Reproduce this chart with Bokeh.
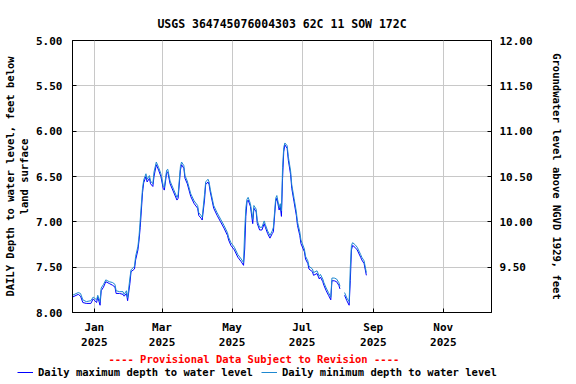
from datetime import datetime
from bokeh.plotting import figure
from bokeh.layouts import column
from bokeh.models import (Range1d, LinearAxis, FixedTicker, PrintfTickFormatter,
                          Legend, LegendItem, Title, ColumnDataSource)
from bokeh.embed import file_html
from bokeh.resources import INLINE

NAN = float("nan")

# ---- data ----
dates = [
    "2024-12-13", "2024-12-18", "2024-12-20", "2024-12-22", "2024-12-25", "2024-12-29", "2024-12-31",
    "2025-01-03", "2025-01-04", "2025-01-06", "2025-01-07", "2025-01-09", "2025-01-11", "2025-01-14",
    "2025-01-17", "2025-01-19", "2025-01-20", "2025-01-23", "2025-01-26", "2025-01-27", "2025-01-29",
    "2025-01-30", "2025-02-01", "2025-02-02", "2025-02-05", "2025-02-06", "2025-02-08", "2025-02-09",
    "2025-02-10", "2025-02-11", "2025-02-12", "2025-02-13", "2025-02-15", "2025-02-16", "2025-02-18",
    "2025-02-19", "2025-02-21", "2025-02-22", "2025-02-24", "2025-02-26", "2025-02-28", "2025-03-02",
    "2025-03-03", "2025-03-05", "2025-03-06", "2025-03-08", "2025-03-11", "2025-03-14", "2025-03-15",
    "2025-03-17", "2025-03-18", "2025-03-20", "2025-03-21", "2025-03-23", "2025-03-26", "2025-03-29",
    "2025-04-01", "2025-04-02", "2025-04-04", "2025-04-05", "2025-04-07", "2025-04-08", "2025-04-10",
    "2025-04-11", "2025-04-12", "2025-04-15", "2025-04-18", "2025-04-21", "2025-04-24", "2025-04-27",
    "2025-04-28", "2025-04-30", "2025-05-03", "2025-05-06", "2025-05-09", "2025-05-11", "2025-05-12",
    "2025-05-13", "2025-05-14", "2025-05-15", "2025-05-17", "2025-05-19", "2025-05-20", "2025-05-22",
    "2025-05-23", "2025-05-25", "2025-05-27", "2025-05-29", "2025-05-30", "2025-06-01", "2025-06-03",
    "2025-06-05", "2025-06-06", "2025-06-08", "2025-06-09", "2025-06-11", "2025-06-12", "2025-06-13",
    "2025-06-14", "2025-06-15", "2025-06-16", "2025-06-18", "2025-06-19", "2025-06-21", "2025-06-22",
    "2025-06-24", "2025-06-26", "2025-06-27", "2025-06-29", "2025-06-30", "2025-07-03", "2025-07-04",
    "2025-07-06", "2025-07-07", "2025-07-10", "2025-07-11", "2025-07-14", "2025-07-16", "2025-07-17",
    "2025-07-19", "2025-07-20", "2025-07-22", "2025-07-24", "2025-07-26", "2025-07-27", "2025-07-29",
    "2025-07-31", "2025-08-02", "2025-08-03", "2025-08-05", "2025-08-07", "2025-08-09", "2025-08-11",
    "2025-08-12", "2025-08-13", "2025-08-14", "2025-08-16", "2025-08-18", "2025-08-21", "2025-08-22",
    "2025-08-24", "2025-08-26",
]

max_depth = [
    7.83, 7.80, 7.82, 7.89, 7.90, 7.90, 7.85,
    7.89, 7.83, 7.92, 7.76, 7.72, 7.66, 7.68,
    7.70, 7.72, 7.79, 7.79, 7.80, 7.82, 7.79,
    7.87, 7.68, 7.55, 7.52, 7.42, 7.31, 7.20,
    7.06, 6.87, 6.68, 6.57, 6.50, 6.56, 6.52,
    6.58, 6.61, 6.50, 6.37, 6.43, 6.50, 6.63,
    6.65, 6.46, 6.45, 6.58, 6.67, 6.76, 6.74,
    6.43, 6.37, 6.41, 6.52, 6.58, 6.72, 6.80,
    6.85, 6.93, 6.96, 6.98, 6.76, 6.59, 6.56,
    6.59, 6.67, 6.85, 6.93, 7.00, 7.07, 7.15,
    7.20, 7.26, 7.31, 7.39, 7.44, 7.48, 7.30,
    6.94, 6.78, 6.76, 6.83, 7.02, 6.85, 6.89,
    7.02, 7.09, 7.09, 7.02, 7.06, 7.13, 7.18,
    7.13, 7.11, 6.78, 6.74, 6.87, 6.83, 6.94,
    6.52, 6.23, 6.15, 6.19, 6.32, 6.48, 6.63,
    6.78, 6.93, 7.04, 7.15, 7.24, 7.33, 7.41,
    7.46, 7.52, 7.55, 7.59, 7.57, 7.63, 7.61,
    7.66, 7.70, 7.76, 7.81, 7.86, 7.65, 7.65,
    7.66, 7.70, 7.74, NAN, 7.81, 7.87, 7.92,
    7.65, 7.31, 7.26, 7.28, 7.31, 7.39, 7.42,
    7.46, 7.59,
]

min_depth = [
    7.81, 7.78, 7.79, 7.86, 7.88, 7.87, 7.83,
    7.86, 7.81, 7.88, 7.73, 7.69, 7.64, 7.66,
    7.67, 7.69, 7.76, 7.77, 7.77, 7.80, 7.76,
    7.84, 7.62, 7.53, 7.49, 7.38, 7.27, 7.15,
    6.98, 6.80, 6.63, 6.54, 6.47, 6.53, 6.49,
    6.55, 6.58, 6.45, 6.34, 6.40, 6.47, 6.60,
    6.62, 6.43, 6.42, 6.55, 6.64, 6.73, 6.70,
    6.39, 6.34, 6.38, 6.49, 6.55, 6.69, 6.77,
    6.82, 6.90, 6.93, 6.95, 6.70, 6.56, 6.53,
    6.56, 6.64, 6.82, 6.90, 6.97, 7.04, 7.12,
    7.17, 7.23, 7.28, 7.36, 7.41, 7.45, 7.10,
    6.85, 6.75, 6.73, 6.80, 6.97, 6.82, 6.86,
    6.99, 7.06, 7.06, 6.99, 7.03, 7.10, 7.15,
    7.10, 7.06, 6.74, 6.71, 6.84, 6.80, 6.88,
    6.40, 6.18, 6.13, 6.16, 6.28, 6.44, 6.59,
    6.74, 6.89, 7.00, 7.11, 7.20, 7.30, 7.38,
    7.43, 7.49, 7.52, 7.56, 7.54, 7.60, 7.58,
    7.63, 7.67, 7.73, 7.78, 7.83, 7.62, 7.62,
    7.63, 7.67, 7.71, NAN, 7.78, 7.84, 7.88,
    7.50, 7.26, 7.23, 7.25, 7.28, 7.36, 7.39,
    7.43, 7.56,
]

left_ticks = [5.0, 5.5, 6.0, 6.5, 7.0, 7.5, 8.0]
right_ticks = [9.5, 10.0, 10.5, 11.0, 11.5, 12.0]
month_ticks = ["2025-01-01", "2025-03-01", "2025-05-01", "2025-07-01", "2025-09-01", "2025-11-01"]
month_labels = ["Jan\n2025", "Mar\n2025", "May\n2025", "Jul\n2025", "Sep\n2025", "Nov\n2025"]

title_text = "USGS 364745076004303 62C 11 SOW 172C"
left_label = "DAILY Depth to water level, feet below\nland surface"
right_label = "Groundwater level above NGVD 1929, feet"
provisional = "---- Provisional Data Subject to Revision ----"
max_name = "Daily maximum depth to water level"
min_name = "Daily minimum depth to water level"
max_color = "#0000ff"
min_color = "#1e88d0"

# ---- build ----
def to_dt(s):
    return datetime.strptime(s, "%Y-%m-%d")

def to_ms(s):
    return (to_dt(s) - datetime(1970, 1, 1)).total_seconds() * 1000.0

FONT = "DejaVu Sans Mono"
x_dates = [to_dt(d) for d in dates]
src = ColumnDataSource(dict(x=x_dates, ymax=max_depth, ymin=min_depth))

p = figure(width=576, height=366, x_axis_type="datetime",
           x_range=Range1d(datetime(2024, 12, 13), datetime(2025, 12, 13)),
           y_range=Range1d(8.0, 5.0),
           output_backend="svg", toolbar_location=None,
           min_border_left=72, min_border_right=85, min_border_top=40, min_border_bottom=54)

p.title.text = title_text
p.title.align = "center"
p.title.text_font = FONT
p.title.text_font_size = "11.5px"
p.title.text_font_style = "bold"
p.title.text_color = "black"
p.title.standoff = 20

p.outline_line_color = "black"
p.outline_line_width = 1
p.background_fill_color = "white"
p.border_fill_color = "white"

p.line("x", "ymax", source=src, line_color=max_color, line_width=1)
p.line("x", "ymin", source=src, line_color=min_color, line_width=1)

# left axis
ya = p.yaxis[0]
ya.ticker = FixedTicker(ticks=left_ticks)
ya.formatter = PrintfTickFormatter(format="%.2f")
ya.axis_label = left_label

# right axis
p.extra_y_ranges = {"right": Range1d(9.0, 12.0)}
ra = LinearAxis(y_range_name="right", ticker=FixedTicker(ticks=right_ticks),
                formatter=PrintfTickFormatter(format="%.2f"), axis_label=right_label)
p.add_layout(ra, "right")

# x axis
xa = p.xaxis[0]
tick_ms = [to_ms(t) for t in month_ticks]
xa.ticker = FixedTicker(ticks=tick_ms)
xa.major_label_overrides = {t: lab for t, lab in zip(tick_ms, month_labels)}

for ax in [ya, ra, xa]:
    ax.major_tick_in = 4
    ax.major_tick_out = 0
    ax.minor_tick_line_color = None
    ax.axis_line_color = "black"
    ax.major_tick_line_color = "black"
    ax.major_label_text_font = FONT
    ax.major_label_text_font_size = "11px"
    ax.major_label_text_font_style = "bold"
    ax.major_label_text_color = "black"
    ax.axis_label_text_font = FONT
    ax.axis_label_text_font_size = "10.5px"
    ax.axis_label_text_font_style = "bold"
    ax.axis_label_text_color = "black"

ya.major_label_standoff = 10
ya.axis_label_standoff = 3
ra.major_label_standoff = 8
ra.axis_label_standoff = 15
xa.major_label_standoff = 8

p.xgrid.ticker = FixedTicker(ticks=tick_ms)
p.ygrid.ticker = FixedTicker(ticks=left_ticks)
p.xgrid.grid_line_color = "#c8c8c8"
p.ygrid.grid_line_color = "#c8c8c8"

prov = Title(text=provisional, align="left", offset=36, text_color="red",
             text_font=FONT, text_font_size="10.5px", text_font_style="bold", standoff=-3)
p.add_layout(prov, "below")

# ---- legend strip below the chart ----
lg = figure(width=576, height=18, x_range=Range1d(0, 1), y_range=Range1d(0, 1),
            output_backend="svg", toolbar_location=None,
            x_axis_location=None, y_axis_location=None,
            min_border_left=0, min_border_right=0, min_border_top=0, min_border_bottom=0)
for fig in (p, lg):
    if "frame_align" in fig.properties():
        fig.frame_align = False
lg.outline_line_color = None
lg.xgrid.visible = False
lg.ygrid.visible = False
lg.background_fill_color = "white"
lg.border_fill_color = "white"
# same series, drawn in the strip's own ranges (they fall outside it); used only as legend keys
k_max = lg.line("x", "ymax", source=src, line_color=max_color, line_width=1)
k_min = lg.line("x", "ymin", source=src, line_color=min_color, line_width=1)

legend = Legend(items=[LegendItem(label=max_name, renderers=[k_max]),
                       LegendItem(label=min_name, renderers=[k_min])],
                orientation="horizontal", location=(17, 6),
                glyph_width=16, glyph_height=12, label_height=12, label_standoff=5,
                spacing=8, padding=0, margin=0,
                border_line_color=None, background_fill_alpha=0,
                label_text_font=FONT, label_text_font_size="10.5px",
                label_text_font_style="bold", label_text_color="black",
                label_text_baseline="middle")
lg.add_layout(legend)

page = column(p, lg, spacing=0)
open("out.html", "w").write(file_html(page, INLINE))
